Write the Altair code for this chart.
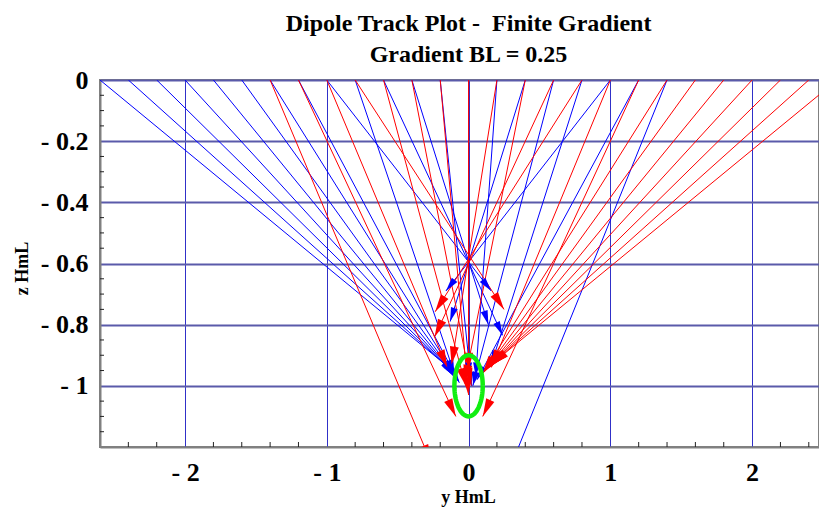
import math
import altair as alt
import pandas as pd

# ---------------- data ----------------
# start points of the tracks on the surface z = 0 and their end points (arrow tips)
blue_start = [-2.6, -2.4, -2.2, -2.0, -1.8, -1.6, -1.4, -1.2, -1.0, -0.8, -0.6,
              -0.4, -0.2, 0.0, 0.2, 0.4, 0.6, 0.8, 1.0, 1.2, 1.4]
blue_end_y = [-0.10, -0.095, -0.09, -0.085, -0.08, -0.075, -0.07, -0.065, 0.16, -0.10, 0.24,
              0.14, 0.02, 0.0, 0.05, -0.13, 0.03, 0.16, -0.16, 0.06, 0.30]
blue_end_z = [-0.955, -0.96, -0.965, -0.97, -0.975, -0.98, -0.985, -0.99, -0.69, -0.96, -0.835,
              -0.80, -1.0, -0.97, -0.97, -0.79, -1.0, -0.93, -0.69, -0.98, -1.26]

red_start = [-1.4, -1.2, -1.0, -0.8, -0.6, -0.4, -0.2, 0.0, 0.2, 0.4, 0.6, 0.8, 1.0,
             1.2, 1.4, 1.6, 1.8, 2.0, 2.2, 2.4, 2.6]
red_end_y = [-0.265, -0.09, -0.15, 0.25, -0.02, 0.02, 0.0, 0.0, -0.12, -0.03, -0.24, -0.236, 0.16,
             0.10, 0.10, 0.11, 0.12, 0.13, 0.14, 0.15, 0.16]
red_end_z = [-1.25, -1.10, -0.94, -0.75, -1.0, -1.0, -1.03, -0.95, -0.93, -0.99, -0.84, -0.758, -0.94,
             -1.10, -0.96, -0.955, -0.95, -0.945, -0.94, -0.935, -0.93]

circle_center_y = 0.0
circle_center_z = -1.0
circle_radius = 0.1

x_major = [-2, -1, 0, 1, 2]
z_major = [0, -0.2, -0.4, -0.6, -0.8, -1.0]
x_minor = [-2.4, -2.2, -1.8, -1.6, -1.4, -1.2, -0.8, -0.6, -0.4, -0.2,
           0.2, 0.4, 0.6, 0.8, 1.2, 1.4, 1.6, 1.8, 2.2, 2.4]
z_minor = [-0.05, -0.1, -0.15, -0.25, -0.3, -0.35, -0.45, -0.5, -0.55, -0.65, -0.7, -0.75,
           -0.85, -0.9, -0.95, -1.05, -1.1, -1.15]

X_DOMAIN = [-2.6, 2.472]
Z_DOMAIN = [-1.2, 0]
W, H = 719, 367

# ---------------- tables ----------------
sx = W / (X_DOMAIN[1] - X_DOMAIN[0])
sz = H / (Z_DOMAIN[1] - Z_DOMAIN[0])

rows = []
for series, st, ey, ez in (("blue", blue_start, blue_end_y, blue_end_z),
                           ("red", red_start, red_end_y, red_end_z)):
    for a, b, c in zip(st, ey, ez):
        dxp = (b - a) * sx
        dyp = -(c - 0.0) * sz
        ang = math.degrees(math.atan2(dxp, -dyp)) % 360
        rows.append({"series": series, "y0": a, "z0": 0.0, "y1": b, "z1": c, "angle": ang})
tracks = pd.DataFrame(rows)

circ = pd.DataFrame({"k": list(range(73))})
circ["y"] = [circle_center_y + circle_radius * math.cos(2 * math.pi * k / 72) for k in circ["k"]]
circ["z"] = [circle_center_z + circle_radius * math.sin(2 * math.pi * k / 72) for k in circ["k"]]

xt = pd.DataFrame({"y": x_minor})
zt = pd.DataFrame({"z": z_minor})

FONT = "Liberation Serif"
xscale = alt.Scale(domain=X_DOMAIN, nice=False, zero=False)
zscale = alt.Scale(domain=Z_DOMAIN, nice=False, zero=False)

xaxis = alt.Axis(values=x_major, title="y HmL", grid=True, gridColor="#3030c8", gridWidth=1,
                 ticks=False, domainColor="#808080", domainWidth=2,
                 labelExpr="datum.value < 0 ? '- ' + toString(abs(datum.value)) : toString(datum.value)",
                 labelFont=FONT, labelFontSize=26, labelFontWeight="bold", labelColor="black",
                 labelPadding=12,
                 titleFont=FONT, titleFontSize=18, titleFontWeight="bold", titleColor="black",
                 titleX=368, titleY=50, titleBaseline="middle")
zaxis = alt.Axis(values=z_major, title="z HmL", grid=True, gridColor="#5a5aaa", gridWidth=2,
                 ticks=False, domainColor="#808080", domainWidth=2,
                 labelExpr="datum.value == 0 ? '0' : '- ' + toString(abs(datum.value))",
                 labelFont=FONT, labelFontSize=26, labelFontWeight="bold", labelColor="black",
                 labelPadding=12,
                 titleFont=FONT, titleFontSize=18, titleFontWeight="bold", titleColor="black",
                 titleAngle=-90, titleX=-78, titleY=188, titleBaseline="middle", titleAlign="center")

color = alt.Color("series:N", scale=alt.Scale(domain=["blue", "red"], range=["#0000ff", "#ff0000"]),
                  legend=None)

lines = alt.Chart(tracks).mark_rule(clip=True, strokeWidth=1).encode(
    x=alt.X("y0:Q", scale=xscale, axis=xaxis),
    x2="y1:Q",
    y=alt.Y("z0:Q", scale=zscale, axis=zaxis),
    y2="z1:Q",
    color=color,
)

arrows = alt.Chart(tracks).mark_point(
    clip=True, filled=True, opacity=1, shape="M0,0L0.5,2L-0.5,2Z"
).encode(
    x=alt.X("y1:Q", scale=xscale, axis=xaxis),
    y=alt.Y("z1:Q", scale=zscale, axis=zaxis),
    color=color,
    angle=alt.Angle("angle:Q", scale=None),
    size=alt.Size("series:N", scale=alt.Scale(domain=["blue", "red"], range=[200, 320]), legend=None),
)

ring = alt.Chart(circ).mark_line(color="#11ee11", strokeWidth=4.5, clip=True).encode(
    x=alt.X("y:Q", scale=xscale, axis=xaxis),
    y=alt.Y("z:Q", scale=zscale, axis=zaxis),
    order="k:Q",
)

xticks = alt.Chart(xt).mark_rule(color="#222222", strokeWidth=1).encode(
    x=alt.X("y:Q", scale=xscale, axis=xaxis),
    y=alt.value(H), y2=alt.value(H - 5),
)
zticks = alt.Chart(zt).mark_rule(color="#222222", strokeWidth=1).encode(
    y=alt.Y("z:Q", scale=zscale, axis=zaxis),
    x=alt.value(0), x2=alt.value(4),
)

chart = alt.layer(xticks, zticks, lines, arrows, ring).properties(
    width=W, height=H,
    autosize="none",
    padding={"left": 92, "top": 72, "right": 0, "bottom": 60},
    title=alt.TitleParams(
        text=["Dipole Track Plot -\u00a0\u00a0Finite Gradient", "Gradient BL = 0.25"],
        font=FONT, fontSize=24, fontWeight="bold", color="black",
        lineHeight=31, anchor="middle", dx=9, offset=0,
    ),
).configure_view(stroke="#808080", strokeWidth=2)

chart.save("out.html", embed_options={"renderer": "svg", "actions": False})
